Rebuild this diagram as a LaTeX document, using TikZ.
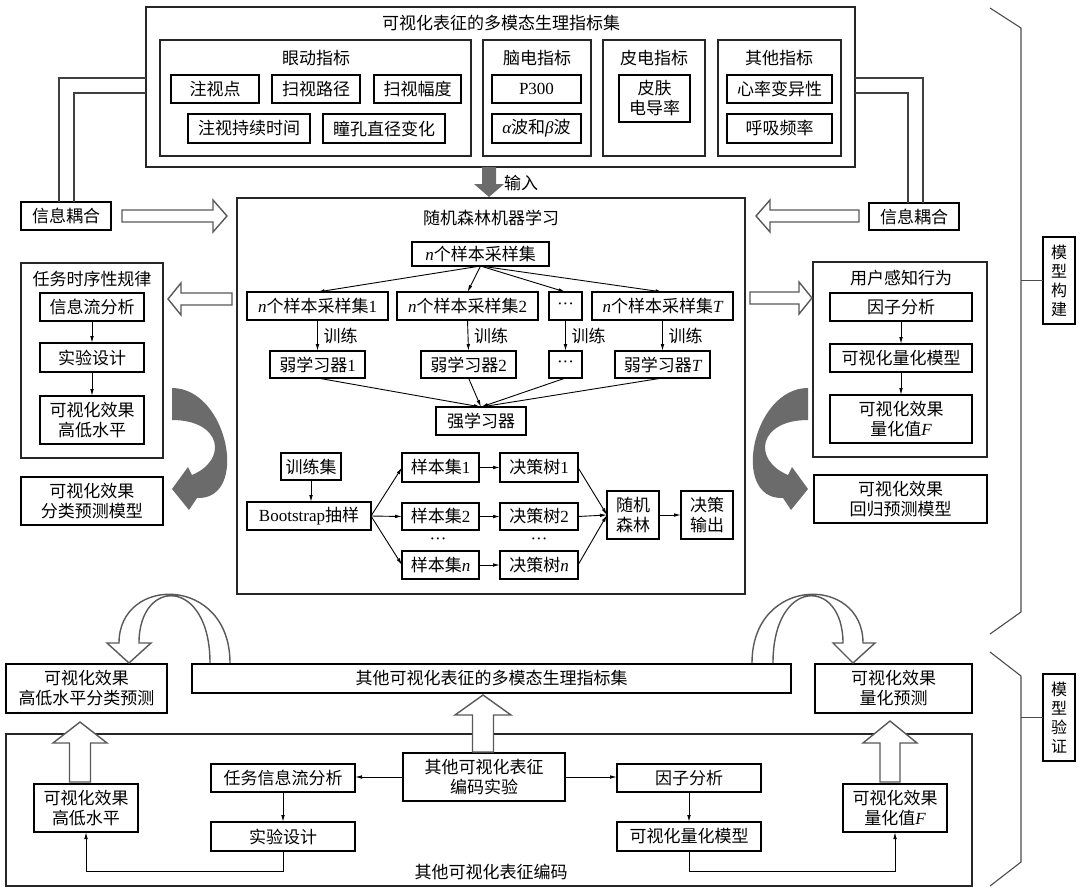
\documentclass[tikz,border=0pt]{standalone}
\usepackage{fontspec}
\setmainfont{Noto Sans CJK SC}
\newfontfamily\lat{Liberation Serif}
\usetikzlibrary{arrows.meta}
\newcommand\myit[1]{{\lat\itshape #1}}
\newcommand\myrm[1]{{\lat #1}}
\newcommand\mybox[7][box]{\node[#1, minimum width={(#5-#3)*1pt}, minimum height={(#6-#4)*1pt}] (#2) at ({(#3+#5)/2},{(#4+#6)/2}) {#7};}
\newcommand\hollowarrow[7][hollow]{\draw[#1, shift={#2}, rotate=#3] (0,-#5) -- ({#4-#7},-#5) -- ({#4-#7},-#6) -- (#4,0) -- ({#4-#7},#6) -- ({#4-#7},#5) -- (0,#5) -- cycle;}
\begin{document}
\begin{tikzpicture}[x=1pt,y=-1pt,
  font=\fontsize{17pt}{20pt}\selectfont,
  box/.style={draw=black, line width=1.5pt, inner sep=0pt, outer sep=0pt, align=center, fill=white},
  cont/.style={draw=black!85, line width=1.1pt, inner sep=0pt, outer sep=0pt},
  ttl/.style={inner sep=0pt, outer sep=0pt},
  arr/.style={-{Latex[length=7pt,width=3.6pt]}, line width=0.9pt},
  cpl/.style={draw=black!75, line width=1.4pt},
  hollow/.style={draw=black!65, line width=1.4pt, fill=white},
  arch/.style={draw=black!65, line width=1.4pt},
  garrow/.style={fill=black!58, draw=none},
  brk/.style={draw=black!70, line width=1.1pt},
  vbox/.style={box, font=\fontsize{16pt}{19pt}\selectfont, line width=1.4pt}]
\useasboundingbox (0,0) rectangle (1080,892);
\fill[white] (0,0) rectangle (1080,892);

% ---------- top: indicator set ----------
\mybox[cont]{top}{146}{7}{855}{167}{}
\node[ttl] (toptitle) at (501,23) {可视化表征的多模态生理指标集};
\mybox[cont]{eye}{160}{40}{471}{156}{}
\node[ttl] (eyet) at (316,58) {眼动指标};
\mybox{fix}{171}{75}{259}{103}{注视点}
\mybox{sac}{272}{75}{360}{103}{扫视路径}
\mybox{amp}{374}{75}{461}{103}{扫视幅度}
\mybox{dur}{188}{114}{310}{143}{注视持续时间}
\mybox{pup}{323}{114}{445}{143}{瞳孔直径变化}
\mybox[cont]{eeg}{483}{40}{591}{156}{}
\node[ttl] (eegt) at (537,58) {脑电指标};
\mybox{p300}{492}{75}{581}{103}{\myrm{P300}}
\mybox{ab}{492}{114}{581}{143}{\myit{α}波和\myit{β}波}
\mybox[cont]{eda}{603}{40}{705}{156}{}
\node[ttl] (edat) at (654,58) {皮电指标};
\mybox{skin}{619}{75}{690}{122}{皮肤\\电导率}
\mybox[cont]{oth}{718}{40}{841}{156}{}
\node[ttl] (otht) at (779,58) {其他指标};
\mybox{hrv}{727}{75}{832}{103}{心率变异性}
\mybox{resp}{727}{114}{832}{143}{呼吸频率}

% ---------- info coupling ----------
\mybox{infoL}{21}{202}{111}{230}{信息耦合}
\mybox{infoR}{869}{203}{959}{230}{信息耦合}
\draw[cpl] ([yshift=-71pt]top.north west) -| ([xshift=-7pt]infoL.north);
\draw[cpl] ([yshift=-86pt]top.north west) -| ([xshift=8pt]infoL.north);
\draw[cpl] ([yshift=-71pt]top.north east) -| ([xshift=9pt]infoR.north);
\draw[cpl] ([yshift=-86pt]top.north east) -| ([xshift=-6pt]infoR.north);

% ---------- centre: random forest ----------
\mybox[cont]{rfbox}{237}{198}{745}{594}{}
\node[ttl] (rft) at (491,218) {随机森林机器学习};
\mybox{ns}{412}{242}{549}{266}{\myit{n}个样本采样集}
\mybox{s1}{247}{292}{388}{320}{\myit{n}个样本采样集\myrm{1}}
\mybox{s2}{397}{292}{538}{320}{\myit{n}个样本采样集\myrm{2}}
\mybox{sd}{549}{292}{582}{320}{\myrm{···}}
\mybox{sT}{592}{292}{733}{320}{\myit{n}个样本采样集\myit{T}}
\mybox{w1}{270}{351}{365}{378}{弱学习器\myrm{1}}
\mybox{w2}{421}{351}{516}{378}{弱学习器\myrm{2}}
\mybox{wd}{549}{351}{582}{378}{\myrm{···}}
\mybox{wT}{615}{351}{710}{378}{弱学习器\myit{T}}
\mybox{strong}{436}{407}{526}{435}{强学习器}
\mybox{trainset}{281}{453}{341}{480}{训练集}
\mybox{boot}{247}{502}{371}{530}{\myrm{Bootstrap}抽样}
\mybox{b1}{402}{453}{479}{482}{样本集\myrm{1}}
\mybox{b2}{402}{503}{479}{530}{样本集\myrm{2}}
\mybox{bn}{402}{551}{479}{579}{样本集\myit{n}}
\mybox{t1}{500}{453}{578}{482}{决策树\myrm{1}}
\mybox{t2}{500}{503}{578}{530}{决策树\myrm{2}}
\mybox{tn}{500}{551}{578}{579}{决策树\myit{n}}
\node[ttl] (dotb) at (438,541) {\myrm{···}};
\node[ttl] (dott) at (539,541) {\myrm{···}};
\mybox{rf}{607}{491}{659}{539}{随机\\森林}
\mybox{out}{681}{491}{733}{539}{决策\\输出}

\foreach \t in {s1,s2,sd,sT} \draw[arr] (ns.south) -- (\t.north);
\foreach \a/\b in {s1/w1,s2/w2,sd/wd,sT/wT}
  \draw[arr] (\a.south) -- node[right=6pt, ttl]{训练} (\b.north);
\foreach \w in {w1,w2,wd,wT} \draw[arr] (\w.south) -- (strong.north);
\draw[arr] (trainset.south) -- (trainset.south |- boot.north);
\foreach \b in {b1,b2,bn} \draw[arr] (boot.east) -- (\b.west);
\foreach \b/\t in {b1/t1,b2/t2,bn/tn} \draw[arr] (\b.east) -- (\t.west);
\foreach \t in {t1,t2,tn} \draw[arr] (\t.east) -- (rf.west);
\draw[arr] (rf.east) -- (out.west);

% ---------- left column ----------
\mybox[cont]{lcol}{21}{263}{163}{458}{}
\node[ttl] (lcolt) at (92,279) {任务时序性规律};
\mybox{l1}{40}{293}{144}{321}{信息流分析}
\mybox{l2}{40}{343}{144}{372}{实验设计}
\mybox{l3}{40}{396}{144}{444}{可视化效果\\高低水平}
\mybox{lres}{21}{477}{163}{525}{可视化效果\\分类预测模型}
\draw[arr] (l1.south) -- (l2.north);
\draw[arr] (l2.south) -- (l3.north);

% ---------- right column ----------
\mybox[cont]{rcol}{813}{262}{987}{457}{}
\node[ttl] (rcolt) at (901,278) {用户感知行为};
\mybox{r1}{830}{293}{972}{321}{因子分析}
\mybox{r2}{830}{344}{972}{372}{可视化量化模型}
\mybox{r3}{830}{395}{972}{443}{可视化效果\\量化值\myit{F}}
\mybox{rres}{814}{475}{987}{523}{可视化效果\\回归预测模型}
\draw[arr] (r1.south) -- (r2.north);
\draw[arr] (r2.south) -- (r3.north);

% ---------- bottom ----------
\mybox{bar}{192}{664}{791}{693}{其他可视化表征的多模态生理指标集}
\mybox{cls}{6}{664}{167}{713}{可视化效果\\高低水平分类预测}
\mybox{qp}{815}{664}{972}{713}{可视化效果\\量化预测}
\mybox[cont]{frame}{6}{734}{972}{886}{}
\node[ttl] (framet) at (491,872) {其他可视化表征编码};
\mybox{bhl}{34}{784}{138}{832}{可视化效果\\高低水平}
\mybox{bta}{211}{764}{355}{792}{任务信息流分析}
\mybox{bed}{211}{822}{355}{851}{实验设计}
\mybox{bexp}{403}{753}{565}{801}{其他可视化表征\\编码实验}
\mybox{bfa}{617}{764}{761}{792}{因子分析}
\mybox{bqm}{617}{822}{761}{851}{可视化量化模型}
\mybox{bqf}{843}{784}{947}{832}{可视化效果\\量化值\myit{F}}
\draw[arr] (bexp.west) -- (bexp.west -| bta.east);
\draw[arr] (bexp.east) -- (bexp.east -| bfa.west);
\draw[arr] (bta.south) -- (bed.north);
\draw[arr] (bfa.south) -- (bqm.north);
\draw[arr] (bed.south) -- ++(0,20) -| (bhl.south);
\draw[arr] (bqm.south) -- ++(0,20) -| (bqf.south);

% ---------- block arrows ----------
\hollowarrow[garrow]{(489,167)}{-90}{30}{7}{15}{13}
\node[ttl] (inp) at (521,183) {输入};
\hollowarrow{(122,216)}{0}{105}{6}{16}{14}
\hollowarrow{(859,216)}{180}{103}{6}{16}{14}
\hollowarrow{(232,299)}{180}{64}{6}{16}{13}
\hollowarrow{(750,298)}{0}{62}{6}{16}{13}
\hollowarrow{(80,782)}{90}{60}{10.5}{27}{21}
\hollowarrow{(483,752)}{90}{57}{10.5}{28}{20}
\hollowarrow{(890,782)}{90}{61}{10}{27}{22}

% curved grey arrows
\fill[garrow] (172,388) .. controls (228,388) and (250,500) .. (197,498) -- (189,510) -- (172,489) -- (188,467) -- (192,475) .. controls (228,460) and (222,420) .. (172,420) -- cycle;
\fill[garrow] (808,388) .. controls (752,388) and (730,500) .. (783,498) -- (791,510) -- (808,489) -- (792,467) -- (788,475) .. controls (752,460) and (758,420) .. (808,420) -- cycle;

% arch arrows
\draw[arch] (230,663) .. controls (230,575) and (119,575) .. (119,643) -- (107,643) -- (129,663) -- (151,643) -- (139,643) .. controls (139,577) and (210,577) .. (210,663);
\draw[arch] (752,663) .. controls (752,575) and (863,575) .. (863,643) -- (875,643) -- (853,663) -- (833,643) -- (843,643) .. controls (843,577) and (773,577) .. (773,663);

% ---------- brackets ----------
\mybox[vbox]{mb}{1043}{237}{1075}{324}{模\\型\\构\\建}
\mybox[vbox]{mv}{1043}{674}{1075}{761}{模\\型\\验\\证}
\draw[brk] (990,8) -- (1021,28) -- (1021,612) -- (990,634);
\draw[brk] (990,652) -- (1021,676) -- (1021,862) -- (990,886);
\draw[brk] (mb.west) -- ++(-22,0);
\draw[brk] (mv.west) -- ++(-22,0);
\end{tikzpicture}
\end{document}
